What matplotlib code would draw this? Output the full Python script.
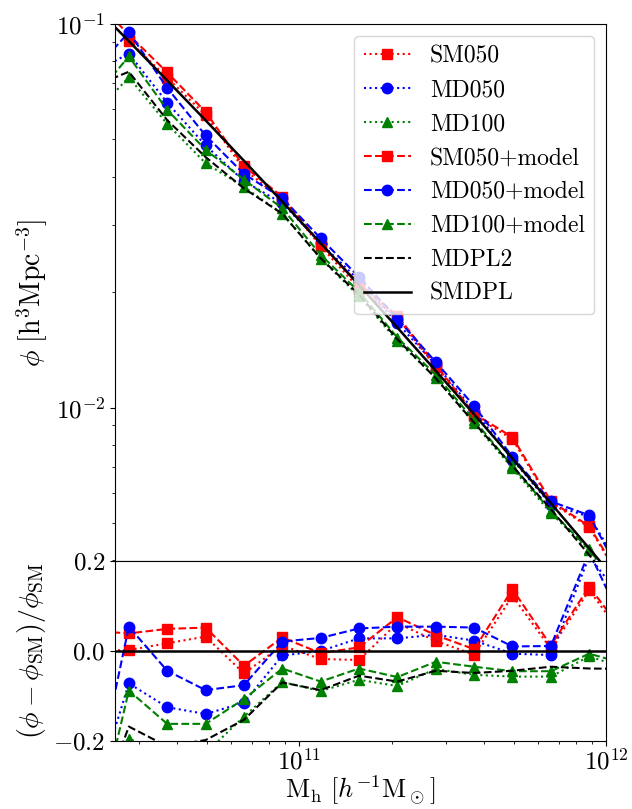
import numpy as np
import matplotlib
matplotlib.use("Agg")
import matplotlib.pyplot as plt

plt.rcParams.update({
    "font.family": "serif",
    "font.serif": ["cmr10"],
    "mathtext.fontset": "cm",
    "axes.formatter.use_mathtext": True,
    "axes.unicode_minus": True,
})

# halo mass bins, log10(M / h^-1 Msun)
log_mass = [10.32, 10.445, 10.57, 10.695, 10.82, 10.945, 11.07, 11.195,
            11.32, 11.445, 11.57, 11.695, 11.82, 11.945, 12.07]

# SMDPL reference mass function phi [h^3 Mpc^-3]
phi_smdpl = [0.1139, 0.09024, 0.07126, 0.05610, 0.04401, 0.03442, 0.02684,
             0.02085, 0.01616, 0.01247, 0.009601, 0.007362, 0.005631,
             0.004293, 0.003262]

# relative differences (phi - phi_SM) / phi_SM
ratio_sm050 = [0.0, 0.002, 0.017, 0.032, -0.05, 0.012, -0.018, -0.02,
               0.062, 0.022, -0.008, 0.122, 0.005, 0.135, 0.02]
ratio_md050 = [-0.35, -0.072, -0.125, -0.14, -0.115, -0.01, 0.0, 0.028,
               0.028, 0.036, 0.023, -0.006, -0.009, 0.21, 0.10]
ratio_md100 = [-0.50, -0.195, -0.23, -0.227, -0.146, -0.069, -0.089, -0.064,
               -0.078, -0.040, -0.053, -0.057, -0.057, -0.012, -0.04]
ratio_sm050_model = [0.045, 0.039, 0.049, 0.052, -0.033, 0.03, -0.005, 0.008,
                     0.075, 0.035, 0.004, 0.137, 0.012, 0.143, 0.03]
ratio_md050_model = [-0.35, 0.054, -0.044, -0.087, -0.076, 0.021, 0.029, 0.050,
                     0.054, 0.054, 0.052, 0.010, 0.011, 0.22, 0.04]
ratio_md100_model = [-0.45, -0.088, -0.162, -0.162, -0.107, -0.039, -0.068,
                     -0.039, -0.058, -0.024, -0.035, -0.045, -0.045, -0.006, -0.03]
ratio_mdpl2 = [-0.40, -0.168, -0.212, -0.198, -0.153, -0.07, -0.087, -0.055,
               -0.068, -0.044, -0.049, -0.044, -0.035, -0.039, -0.04]
ratio_smdpl = [0.0] * 15

mass = 10 ** np.array(log_mass)
phi_ref = np.array(phi_smdpl)

series = [
    ("SM050", ratio_sm050, "red", ":", "s"),
    ("MD050", ratio_md050, "blue", ":", "o"),
    ("MD100", ratio_md100, "green", ":", "^"),
    ("SM050+model", ratio_sm050_model, "red", "--", "s"),
    ("MD050+model", ratio_md050_model, "blue", "--", "o"),
    ("MD100+model", ratio_md100_model, "green", "--", "^"),
    ("MDPL2", ratio_mdpl2, "black", "--", None),
    ("SMDPL", ratio_smdpl, "black", "-", None),
]

fig = plt.figure(figsize=(6.32, 8.09), dpi=100)
ax1 = fig.add_axes([0.182, 0.3066, 0.777, 0.6637])
ax2 = fig.add_axes([0.182, 0.0841, 0.777, 0.2225], sharex=ax1)

for label, r, color, ls, mk in series:
    r = np.array(r)
    lw = 1.8 if label == "SMDPL" else 1.5
    kw = dict(color=color, ls=ls, lw=lw)
    if mk is not None:
        kw.update(marker=mk, ms=7.5)
    ax1.plot(mass, phi_ref * (1 + r), label=label, **kw)
    ax2.plot(mass, r, **kw)

ax1.set_xscale("log")
ax1.set_yscale("log")
ax1.set_xlim(10 ** 10.4, 1e12)
ax1.set_ylim(10 ** -2.4, 0.1)
ax1.tick_params(axis="x", which="both", bottom=False, labelbottom=False)
ax1.tick_params(axis="y", which="major", labelsize=18)
ax1.set_ylabel(r"$\phi\ [\mathrm{h^3Mpc^{-3}}]$", fontsize=20)

ax2.set_ylim(-0.2, 0.2)
ax2.set_yticks([-0.2, 0.0, 0.2])
ax2.tick_params(axis="both", which="major", labelsize=18)
ax2.tick_params(axis="x", which="major", pad=2)
ax2.set_xlabel(r"$\mathrm{M_h}\ [h^{-1}\mathrm{M_\odot}]$", fontsize=19,
               labelpad=-1)
ax2.set_ylabel(r"$(\phi-\phi_{\rm SM})/\phi_{\rm SM}$", fontsize=20)

ax1.legend(loc="upper right", fontsize=17)

fig.align_ylabels([ax1, ax2])
fig.savefig("out.png", dpi=100)
